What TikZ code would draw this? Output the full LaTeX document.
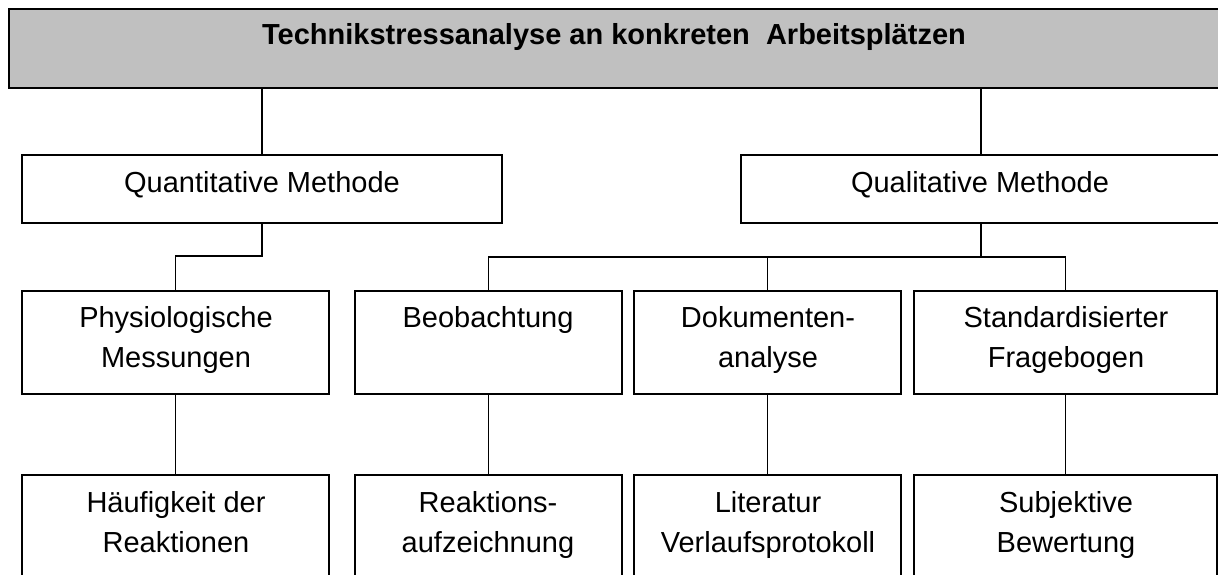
\documentclass[tikz,border=0pt]{standalone}
\usepackage{fontspec}
\setmainfont{Liberation Sans}
\usetikzlibrary{calc}
\definecolor{boxgray}{HTML}{C0C0C0}
\begin{document}
\begin{tikzpicture}[x=1pt,y=-1pt,
  box/.style={draw=black, line width=1.3pt, inner sep=0pt, outer sep=0pt, anchor=north west},
  txt/.style={anchor=base, inner sep=0pt, font=\fontsize{29}{40}\selectfont},
  conn/.style={line width=1.3pt}]
\useasboundingbox (0,0) rectangle (1218,575);
\clip (0,0) rectangle (1218,575);
\fill[white] (0,0) rectangle (1218,575);
% boxes
\node[box, fill=boxgray, line width=2pt, minimum width=1230pt, minimum height=79pt] (top) at (9,9) {};
\node[box, minimum width=480pt, minimum height=68pt] (quant) at (22,155) {};
\node[box, minimum width=480pt, minimum height=68pt] (qual) at (741,155) {};
\node[box, minimum width=307pt, minimum height=103pt] (phys) at (22,291) {};
\node[box, minimum width=267pt, minimum height=103pt] (beob) at (355,291) {};
\node[box, minimum width=267pt, minimum height=103pt] (dok) at (634,291) {};
\node[box, minimum width=303pt, minimum height=103pt] (std) at (914,291) {};
\node[box, minimum width=307pt, minimum height=130pt] (haeuf) at (22,475) {};
\node[box, minimum width=267pt, minimum height=130pt] (reak) at (355,475) {};
\node[box, minimum width=267pt, minimum height=130pt] (lit) at (634,475) {};
\node[box, minimum width=303pt, minimum height=130pt] (subj) at (914,475) {};
% texts
\node[txt, font=\bfseries\fontsize{29}{34}\selectfont] (ttitle) at (614,45) {Technikstressanalyse an konkreten\ \ Arbeitsplätzen};
\node[txt] (tquant) at (262,193) {Quantitative Methode};
\node[txt] (tqual) at (980,193) {Qualitative Methode};
\node[txt] (tphys) at (176,327) {\begin{tabular}[t]{@{}c@{}}Physiologische\\Messungen\end{tabular}};
\node[txt] (tbeob) at (488,327) {Beobachtung};
\node[txt] (tdok) at (768,327) {\begin{tabular}[t]{@{}c@{}}Dokumenten-\\analyse\end{tabular}};
\node[txt] (tstd) at (1066,327) {\begin{tabular}[t]{@{}c@{}}Standardisierter\\Fragebogen\end{tabular}};
\node[txt] (thaeuf) at (176,512) {\begin{tabular}[t]{@{}c@{}}Häufigkeit der\\Reaktionen\end{tabular}};
\node[txt] (treak) at (488,512) {\begin{tabular}[t]{@{}c@{}}Reaktions-\\aufzeichnung\end{tabular}};
\node[txt] (tlit) at (768,512) {\begin{tabular}[t]{@{}c@{}}Literatur\\Verlaufsprotokoll\end{tabular}};
\node[txt] (tsubj) at (1066,512) {\begin{tabular}[t]{@{}c@{}}Subjektive\\Bewertung\end{tabular}};
% connectors
\coordinate (qmid) at (262,256);
\coordinate (bus) at (981,257);
\draw[conn] (top.south -| quant.north) -- (quant.north);
\draw[conn] (top.south -| qual.north) -- (qual.north);
\draw[conn] (quant.south) -- (qmid) -| (phys.north);
\draw[conn] (qual.south) -- (bus);
\draw[conn] (beob.north) |- (bus -| std.north) -- (std.north);
\draw[conn] (dok.north |- bus) -- (dok.north);
\draw[conn] (phys.south) -- (haeuf.north);
\draw[conn] (beob.south) -- (reak.north);
\draw[conn] (dok.south) -- (lit.north);
\draw[conn] (std.south) -- (subj.north);
\end{tikzpicture}
\end{document}
